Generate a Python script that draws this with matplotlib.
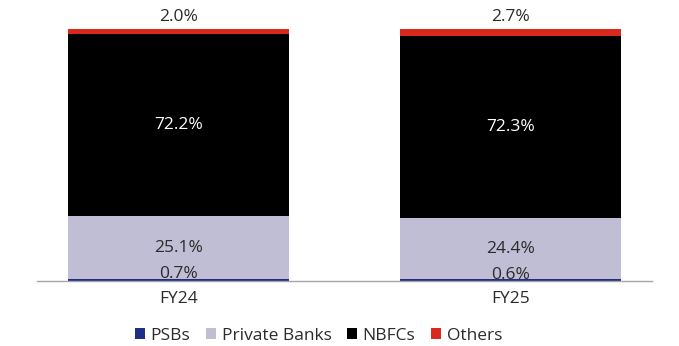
import matplotlib.pyplot as plt
from matplotlib.patches import Patch

categories = ['FY24', 'FY25']
psbs = [0.7, 0.6]
private_banks = [25.1, 24.4]
nbfcs = [72.2, 72.3]
others = [2.0, 2.7]

series = ['PSBs', 'Private Banks', 'NBFCs', 'Others']
colors = ['#1F2F86', '#BFBED4', '#000000', '#DA291C']

plt.rcParams['font.family'] = ['Open Sans', 'DejaVu Sans']

fig = plt.figure(figsize=(6.79, 3.46), dpi=100)
ax = fig.add_axes([37 / 679, 65 / 346, 615 / 679, 252 / 346])

x = [0, 1]
w = 0.666
bottom = [0, 0]
for name, vals, c in zip(series, [psbs, private_banks, nbfcs, others], colors):
    ax.bar(x, vals, w, bottom=bottom, color=c, label=name)
    bottom = [b + v for b, v in zip(bottom, vals)]

fs = 12.5
txt = '#2b2b2b'
for i in x:
    # PSBs label sits just above the thin segment
    ax.annotate(f'{psbs[i]:.1f}%', (i, psbs[i]), xytext=(0, 3.5), textcoords='offset points',
                ha='center', va='center', fontsize=fs, color=txt)
    ax.text(i, psbs[i] + private_banks[i] / 2, f'{private_banks[i]:.1f}%',
            ha='center', va='center', fontsize=fs, color=txt)
    ax.text(i, psbs[i] + private_banks[i] + nbfcs[i] / 2, f'{nbfcs[i]:.1f}%',
            ha='center', va='center', fontsize=fs, color='white')
    top = psbs[i] + private_banks[i] + nbfcs[i] + others[i]
    ax.annotate(f'{others[i]:.1f}%', (i, top), xytext=(0, 3), textcoords='offset points',
                ha='center', va='bottom', fontsize=fs, color=txt)

ax.set_xlim(-0.426, 1.426)
ax.set_ylim(0, 100)
ax.set_xticks(x)
ax.set_xticklabels(categories, fontsize=fs, color=txt)
ax.tick_params(axis='x', length=0, pad=7)
ax.set_yticks([])
for s in ['top', 'right', 'left']:
    ax.spines[s].set_visible(False)
ax.spines['bottom'].set_color('#A6A6A6')
ax.spines['bottom'].set_linewidth(1)

handles = [Patch(facecolor=c, edgecolor='none') for c in colors]
fig.legend(handles, series, loc='center', bbox_to_anchor=(318.5 / 679, 10 / 346), ncol=4,
           frameon=False, fontsize=fs, handlelength=0.6, handleheight=0.6,
           handletextpad=0.3, columnspacing=0.9, labelcolor=txt)

fig.savefig('out.png', dpi=100)
